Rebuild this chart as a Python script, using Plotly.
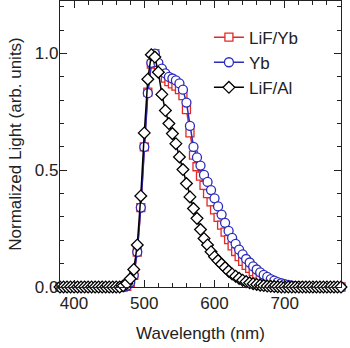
import plotly.graph_objects as go

# Wavelength grid (nm), 5 nm steps
wavelength = list(range(380, 785, 5))

# Normalized emission spectra, 470-735 nm; zero elsewhere
lif_yb_peak = [
    0.0, 0.003, 0.02, 0.05, 0.15, 0.34, 0.60, 0.835, 0.955, 1.0,
    0.95, 0.92, 0.895, 0.88, 0.87, 0.86, 0.845, 0.82, 0.76, 0.66,
    0.565, 0.515, 0.475, 0.435, 0.40, 0.365, 0.33, 0.298, 0.265, 0.235,
    0.203, 0.176, 0.152, 0.13, 0.11, 0.093, 0.08, 0.066, 0.055, 0.045,
    0.037, 0.03, 0.024, 0.018, 0.014, 0.01, 0.008, 0.006, 0.004, 0.003,
    0.002, 0.001, 0.0, 0.0,
]
yb_peak = [
    0.0, 0.005, 0.02, 0.05, 0.15, 0.34, 0.60, 0.83, 0.96, 1.0,
    0.96, 0.935, 0.915, 0.90, 0.893, 0.885, 0.872, 0.845, 0.79, 0.69,
    0.60, 0.555, 0.52, 0.48, 0.45, 0.415, 0.38, 0.345, 0.31, 0.275,
    0.24, 0.21, 0.185, 0.16, 0.14, 0.12, 0.105, 0.088, 0.075, 0.063,
    0.052, 0.043, 0.034, 0.027, 0.021, 0.016, 0.012, 0.009, 0.006, 0.004,
    0.003, 0.002, 0.001, 0.0,
]
lif_al_peak = [
    0.005, 0.015, 0.035, 0.075, 0.18, 0.39, 0.66, 0.89, 0.995, 0.985,
    0.92, 0.825, 0.756, 0.70, 0.657, 0.614, 0.557, 0.503, 0.443, 0.386,
    0.336, 0.294, 0.246, 0.208, 0.18, 0.151, 0.13, 0.113, 0.098, 0.083,
    0.068, 0.056, 0.046, 0.037, 0.029, 0.023, 0.018, 0.014, 0.011, 0.008,
    0.006, 0.004, 0.003, 0.002, 0.001, 0.0, 0.0, 0.0, 0.0, 0.0,
    0.0, 0.0, 0.0, 0.0,
]

n_lead = 18  # 380-465 nm baseline points
n_tail = len(wavelength) - n_lead - len(lif_yb_peak)
lif_yb = [0.0] * n_lead + lif_yb_peak + [0.0] * n_tail
yb = [0.0] * n_lead + yb_peak + [0.0] * n_tail
lif_al = [0.0] * n_lead + lif_al_peak + [0.0] * n_tail

series = [
    ("LiF/Yb", lif_yb, "#e02a26", "square", 8),
    ("Yb", yb, "#2b2bbd", "circle", 9),
    ("LiF/Al", lif_al, "#000000", "diamond", 9),
]

fig = go.Figure()
for name, vals, color, symbol, size in series:
    fig.add_trace(go.Scatter(
        x=wavelength, y=vals, name=name, mode="lines+markers",
        line=dict(color=color, width=1.5),
        marker=dict(symbol=symbol, size=size, color="white",
                    line=dict(color=color, width=1.3)),
        cliponaxis=False,
    ))

font_family = "Liberation Sans, Arial, sans-serif"
axis_common = dict(
    showline=True, linecolor="#222", linewidth=1.3, mirror="ticks",
    ticks="inside", ticklen=7, tickwidth=1.2, tickcolor="#222",
    showgrid=False, zeroline=False,
    tickfont=dict(family=font_family, size=17, color="#222"),
)

fig.update_xaxes(
    range=[380, 780], dtick=100, tick0=400,
    minor=dict(dtick=20, ticks="inside", ticklen=4, tickcolor="#222", tickwidth=1),
    title=dict(text="Wavelength (nm)", font=dict(family=font_family, size=17, color="#222"),
               standoff=15),
    **axis_common,
)
fig.update_yaxes(
    range=[0, 1.225], dtick=0.5, tick0=0, tickformat=".1f",
    ticklabelstandoff=-3,
    minor=dict(dtick=0.1, ticks="inside", ticklen=4, tickcolor="#222", tickwidth=1),
    title=dict(text="Normalized Light (arb. units)",
               font=dict(family=font_family, size=17, color="#222"), standoff=8),
    **axis_common,
)

fig.update_layout(
    width=350, height=348,
    margin=dict(l=60, r=9, t=1, b=61),
    paper_bgcolor="white", plot_bgcolor="white",
    showlegend=True,
    legend=dict(x=0.53, y=0.935, xanchor="left", yanchor="top",
                bgcolor="rgba(0,0,0,0)", borderwidth=0,
                font=dict(family=font_family, size=17, color="#222"),
                tracegroupgap=0, itemwidth=30),
)

fig.write_html("out.html")
